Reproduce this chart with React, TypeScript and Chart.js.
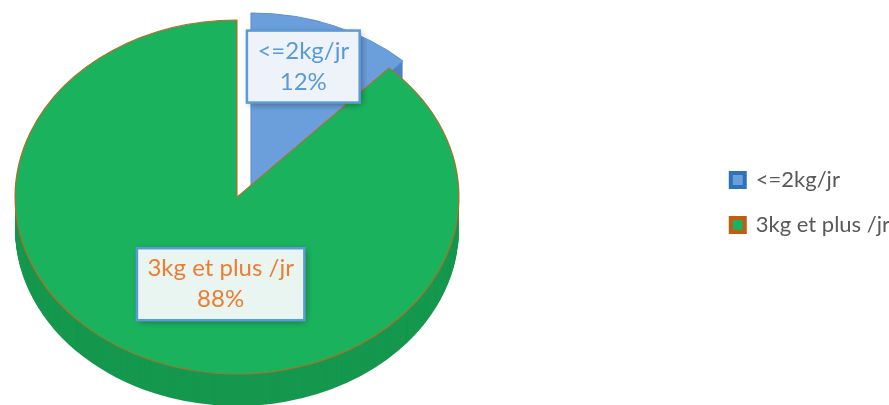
import React, { useEffect, useRef } from "react";
import { Chart, registerables } from "chart.js";

Chart.register(...registerables);

const categories = ["<=2kg/jr", "3kg et plus /jr"];
const values = [12, 88];
const topColors = ["#6b9fdc", "#1bb25e"];
const sideColors = ["#4c82c4", "#15984e"];
const edgeColors = ["#5a8fd0", "#c8651f"];
const legendBorders = ["#2e72b8", "#c55a11"];
const labelTextColors = ["#5b9bd5", "#ed7d31"];

const FONT = "Lato, 'Open Sans', sans-serif";

const pie3d = {
  id: "pie3d",
  beforeDatasetsDraw(chart: any, _args: any, opts: any) {
    const ctx = chart.ctx;
    const meta = chart.getDatasetMeta(0);
    const arcs = meta.data;
    const p = arcs[0].getProps(["x", "y", "outerRadius"], true);
    const apply = (i: number, dy: number) => {
      const s = opts.shifts[i];
      ctx.translate(opts.cx + s[0], opts.cy + s[1] + dy);
      ctx.scale(opts.rx / p.outerRadius, opts.ry / p.outerRadius);
      ctx.translate(-p.x, -p.y);
    };
    for (let i = 0; i < arcs.length; i++) {
      const arc = arcs[i];
      const side = Object.create(arc);
      side.options = { ...arc.options, backgroundColor: opts.sideColors[i], borderColor: opts.sideColors[i], borderWidth: 0 };
      for (let d = opts.depth; d >= 1; d--) {
        ctx.save();
        apply(i, d);
        side.draw(ctx);
        ctx.restore();
      }
      ctx.save();
      apply(i, 0);
      arc.draw(ctx);
      ctx.restore();
    }
    return false;
  },
  afterDraw(chart: any, _args: any, opts: any) {
    const ctx = chart.ctx;
    const meta = chart.getDatasetMeta(0);
    const data = chart.data.datasets[0].data as number[];
    const total = data.reduce((a, b) => a + b, 0);
    meta.data.forEach((arc: any, i: number) => {
      const { startAngle, endAngle } = arc.getProps(["startAngle", "endAngle"], true);
      const mid = (startAngle + endAngle) / 2;
      const s = opts.shifts[i];
      const f = opts.labelFrac[i];
      const x = opts.cx + s[0] + Math.cos(mid) * opts.rx * f[0];
      const y = opts.cy + s[1] + Math.sin(mid) * opts.ry * f[1];
      const lines = [chart.data.labels[i], Math.round((data[i] / total) * 100) + "%"];
      ctx.save();
      ctx.font = `24px ${FONT}`;
      const w = Math.max(...lines.map((l: string) => ctx.measureText(l).width)) + 21;
      const lh = 31;
      const h = lines.length * lh + 10;
      ctx.shadowColor = "rgba(0,0,0,0.4)";
      ctx.shadowBlur = 7;
      ctx.shadowOffsetX = 2;
      ctx.shadowOffsetY = 2;
      ctx.fillStyle = opts.boxFills[i];
      ctx.fillRect(x - w / 2, y - h / 2, w, h);
      ctx.shadowColor = "transparent";
      ctx.lineWidth = 2.5;
      ctx.strokeStyle = "#5b9bd5";
      ctx.strokeRect(x - w / 2, y - h / 2, w, h);
      ctx.fillStyle = labelTextColors[i];
      ctx.textAlign = "center";
      ctx.textBaseline = "middle";
      lines.forEach((l: string, k: number) => {
        ctx.fillText(l, x, y - h / 2 + 5 + lh / 2 + k * lh);
      });
      ctx.restore();
    });
  },
};

export default function App() {
  const ref = useRef<HTMLCanvasElement>(null);
  useEffect(() => {
    document.body.style.margin = "0";
    const chart = new Chart(ref.current!, {
      type: "pie",
      data: {
        labels: categories,
        datasets: [
          {
            data: values,
            backgroundColor: topColors,
            borderColor: edgeColors,
            borderWidth: 1,
          },
        ],
      },
      options: {
        animation: false,
        responsive: true,
        maintainAspectRatio: false,
        layout: { padding: { right: -11 } },
        plugins: {
          tooltip: { enabled: false },
          legend: {
            position: "right",
            labels: {
              font: { family: FONT, size: 22 },
              color: "#595959",
              boxWidth: 14,
              boxHeight: 14,
              padding: 23,
              generateLabels: (c: any) =>
                c.data.labels.map((l: string, i: number) => ({
                  text: l,
                  fillStyle: topColors[i],
                  strokeStyle: legendBorders[i],
                  lineWidth: 4,
                  fontColor: "#595959",
                  hidden: false,
                  index: i,
                })),
            },
          },
          pie3d: {
            cx: 237,
            cy: 197,
            rx: 222,
            ry: 177,
            depth: 32,
            shifts: [
              [14, -7],
              [0, 0],
            ],
            sideColors,
            labelFrac: [
              [0.64, 0.75],
              [0.2, 0.53],
            ],
            boxFills: ["#eef3fa", "#e8f5f1"],
          },
        } as any,
      },
      plugins: [pie3d],
    });
    return () => chart.destroy();
  }, []);
  return (
    <div style={{ position: "fixed", left: 0, top: 0, width: 889, height: 405, background: "#fff" }}>
      <canvas ref={ref} />
    </div>
  );
}
